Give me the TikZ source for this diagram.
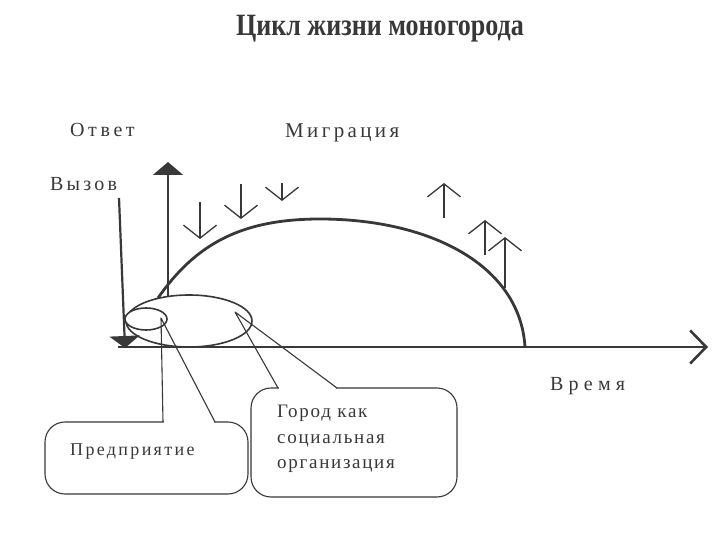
\documentclass[tikz,border=0pt]{standalone}
\usepackage{fontspec}
\setmainfont{Liberation Serif}
\usetikzlibrary{arrows.meta,shapes.geometric}
\definecolor{ink}{gray}{0.22}
\definecolor{inktext}{gray}{0.22}

\begin{document}
\begin{tikzpicture}[
  x=1pt, y=-1pt,
  line join=round,
  lbl/.style={text=inktext, inner sep=0pt, anchor=base west},
  axis/.style={draw=ink, line width=2.6pt},
  curve/.style={draw=ink, line width=2.8pt},
  oval/.style={ellipse, draw=ink, fill=white, line width=1.6pt, inner sep=0pt},
  flow/.style={draw=ink, line width=1.3pt, -{Straight Barb[length=13pt, width=33pt]}},
  callbox/.style={draw=ink, fill=white, line width=1.1pt, rounded corners=20pt},
  pointer/.style={draw=ink, line width=1.1pt}
]
  \useasboundingbox (0,0) rectangle (720,540);

  % Заголовок
  \node[text=inktext, inner sep=0pt, anchor=base, font=\fontsize{31}{36}\selectfont\bfseries]
    (title) at (380,36) {\scalebox{0.84}[1]{Цикл жизни моногорода}};

  % Подписи осей
  \node[lbl, font=\fontsize{20}{24}\selectfont\addfontfeature{LetterSpace=18}] (otvet) at (70,137) {Ответ};
  \node[lbl, font=\fontsize{20}{24}\selectfont\addfontfeature{LetterSpace=16}] (vyzov) at (50,191) {Вызов};
  \node[lbl, font=\fontsize{21}{25}\selectfont\addfontfeature{LetterSpace=16}] (migr) at (285,138) {Миграция};
  \node[lbl, font=\fontsize{20}{24}\selectfont\addfontfeature{LetterSpace=26}] (vremya) at (550,390) {Время};

  % Оси
  \coordinate (o) at (118,347);
  \coordinate (tend) at (708,347);
  \coordinate (r0) at (168,330);
  \coordinate (r1) at (168,162);
  \draw[axis, -{Straight Barb[length=16pt, width=33pt]}] (o) -- (tend);
  \draw[draw=ink, line width=1.8pt, -{Triangle[length=13pt, width=30pt]}] (r0) -- (r1);

  % Кривая жизненного цикла
  \draw[curve] (158,298) .. controls (195,245) and (240,219) .. (320,219)
               .. controls (430,219) and (520,265) .. (525,347);

  % Город и предприятие
  \node[oval, minimum width=126, minimum height=52] (city) at (189,321) {};
  \node[oval, minimum width=42, minimum height=22] (firm) at (146,319) {};

  % Вызов
  \coordinate (c0) at (119,198);
  \coordinate (c1) at (125,348);
  \draw[draw=ink, line width=2.2pt, -{Triangle[length=12pt, width=30pt]}] (c0) -- (c1);

  % Миграция
  \draw[flow] (200,202) -- (200,239);
  \draw[flow] (241,184) -- (241,219);
  \draw[flow] (282,183) -- (282,201);
  \draw[flow] (444,218) -- (444,183);
  \draw[flow] (485,255) -- (485,220);
  \draw[flow] (505,288) -- (505,237);

  % Выноски
  \node[callbox, minimum width=203, minimum height=72] (firmbox) at (146.5,458) {};
  \node[callbox, minimum width=206, minimum height=109] (citybox) at (354,442.5) {};

  \coordinate (fa) at (163,422);
  \coordinate (fb) at (215,422);
  \coordinate (ftip) at (161,318);
  \coordinate (ca) at (278,388);
  \coordinate (cb) at (337,388);
  \coordinate (ctip) at (235,312);

  \fill[white] ([shift={(1,-2)}]fa) rectangle ([shift={(-1,2)}]fb);
  \fill[white] ([shift={(1,-2)}]ca) rectangle ([shift={(-1,2)}]cb);
  \draw[pointer] (fa) -- (ftip) -- (fb);
  \draw[pointer] (ca) -- (ctip) -- (cb);

  \node[lbl, font=\fontsize{18}{22}\selectfont\addfontfeature{LetterSpace=13}] (firmtxt) at (70,455) {Предприятие};
  \node[lbl, font=\fontsize{19}{25.5}\selectfont\addfontfeature{LetterSpace=9}, align=left, anchor=north west]
    (citytxt) at (277,405) {Город как\\социальная\\организация};
\end{tikzpicture}
\end{document}
